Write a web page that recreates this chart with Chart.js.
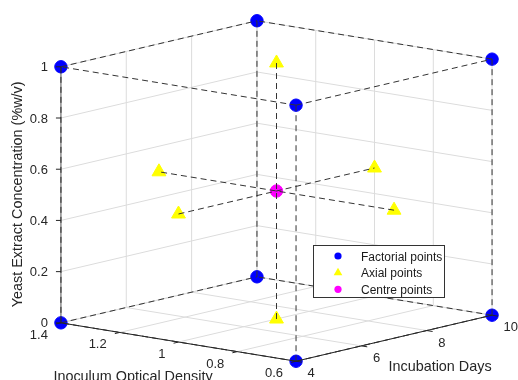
<!DOCTYPE html>
<html><head><meta charset="utf-8">
<script src="https://cdn.jsdelivr.net/npm/chart.js@4.4.1/dist/chart.umd.min.js"></script>
<style>html,body{margin:0;padding:0;background:#fff}canvas{display:block}</style>
</head><body>
<canvas id="c" width="518" height="380"></canvas>
<script>
// ---------------- data ----------------
const factorialDays  = [4, 10, 4, 10, 4, 10, 4, 10];
const factorialOD    = [0.6, 0.6, 1.4, 1.4, 0.6, 0.6, 1.4, 1.4];
const factorialYeast = [0, 0, 0, 0, 1, 1, 1, 1];

const axialDays  = [4, 10, 7, 7, 7, 7];
const axialOD    = [1.0, 1.0, 0.6, 1.4, 1.0, 1.0];
const axialYeast = [0.5, 0.5, 0.5, 0.5, 0, 1];

const centreDays  = [7];
const centreOD    = [1.0];
const centreYeast = [0.5];

const daysTicks  = [4, 6, 8, 10];
const odTicks    = [0.6, 0.8, 1.0, 1.2, 1.4];
const yeastTicks = [0, 0.2, 0.4, 0.6, 0.8, 1.0];

const seriesNames = ['Factorial points', 'Axial points', 'Centre points'];
const titleDays  = 'Incubation Days';
const titleOD    = 'Inoculum Optical Density';
const titleYeast = 'Yeast Extract Concentration (%w/v)';

// ---------------- view (orthographic 3-D camera) ----------------
const LIM = { days: [4, 10], od: [0.6, 1.4], yeast: [0, 1] };
const VIEW = { az: -50.18, el: 11.29, cx: 276.5, cy: 191, sXY: 306.1, sZ: 261.1 };
const AZ = VIEW.az * Math.PI / 180, EL = VIEW.el * Math.PI / 180;
function project(d, o, y) {
  const u = (d - LIM.days[0]) / (LIM.days[1] - LIM.days[0]) - 0.5;
  const v = (o - LIM.od[0]) / (LIM.od[1] - LIM.od[0]) - 0.5;
  const w = (y - LIM.yeast[0]) / (LIM.yeast[1] - LIM.yeast[0]) - 0.5;
  const sx = VIEW.cx + VIEW.sXY * (Math.cos(AZ) * u + Math.sin(AZ) * v);
  const up = VIEW.sXY * (-Math.sin(EL) * Math.sin(AZ) * u + Math.sin(EL) * Math.cos(AZ) * v)
           + VIEW.sZ * Math.cos(EL) * w;
  return { x: sx, y: VIEW.cy - up };
}
function pts(D, O, Y) { return D.map((d, i) => project(d, O[i], Y[i])); }

const COLORS = { factorial: '#0000ff', axial: '#ffff00', centre: '#ff00ff' };
const datasets = [];
function seg(a, b, color, width, dash, order) {
  datasets.push({
    data: [project(a[0], a[1], a[2]), project(b[0], b[1], b[2])],
    showLine: true, pointRadius: 0, pointHoverRadius: 0,
    borderColor: color, borderWidth: width, borderDash: dash || [],
    fill: false, tension: 0, order: order, clip: false
  });
}

// grid on back walls and floor
const G = '#dcdcdc';
const [d0, d1] = LIM.days, [o0, o1] = LIM.od, [y0, y1] = LIM.yeast;
daysTicks.forEach(d => { seg([d, o0, y0], [d, o1, y0], G, 1, null, 6); seg([d, o1, y0], [d, o1, y1], G, 1, null, 6); });
odTicks.forEach(o => { seg([d0, o, y0], [d1, o, y0], G, 1, null, 6); seg([d1, o, y0], [d1, o, y1], G, 1, null, 6); });
yeastTicks.forEach(y => { seg([d0, o1, y], [d1, o1, y], G, 1, null, 6); seg([d1, o0, y], [d1, o1, y], G, 1, null, 6); });

// markers
datasets.push({ label: seriesNames[0], data: pts(factorialDays, factorialOD, factorialYeast),
  pointStyle: 'circle', pointRadius: 6.2, borderWidth: 1, backgroundColor: COLORS.factorial,
  borderColor: COLORS.factorial, showLine: false, order: 3, clip: false });
datasets.push({ label: seriesNames[1], data: pts(axialDays, axialOD, axialYeast),
  pointStyle: 'triangle', pointRadius: 8, borderWidth: 1, backgroundColor: COLORS.axial,
  borderColor: COLORS.axial, showLine: false, order: 3, clip: false });
datasets.push({ label: seriesNames[2], data: pts(centreDays, centreOD, centreYeast),
  pointStyle: 'circle', pointRadius: 6.2, borderWidth: 1, backgroundColor: COLORS.centre,
  borderColor: COLORS.centre, showLine: false, order: 3, clip: false });

// dashed design lines: cube edges between factorial points, and axial pairs
const DASH = [6, 4], DC = '#333333';
for (let i = 0; i < factorialDays.length; i++) {
  for (let j = i + 1; j < factorialDays.length; j++) {
    const diff = (factorialDays[i] !== factorialDays[j]) + (factorialOD[i] !== factorialOD[j]) + (factorialYeast[i] !== factorialYeast[j]);
    if (diff === 1) seg([factorialDays[i], factorialOD[i], factorialYeast[i]], [factorialDays[j], factorialOD[j], factorialYeast[j]], DC, 1, DASH, 2);
  }
}
for (let i = 0; i < axialDays.length; i += 2) {
  seg([axialDays[i], axialOD[i], axialYeast[i]], [axialDays[i + 1], axialOD[i + 1], axialYeast[i + 1]], DC, 1, DASH, 2);
}

// axis lines
const AX = '#262626';
seg([d0, o0, y0], [d1, o0, y0], AX, 1, null, 1);
seg([d0, o0, y0], [d0, o1, y0], AX, 1, null, 1);
seg([d0, o1, y0], [d0, o1, y1], AX, 0.7, null, 1);

// ---------------- text / ticks / legend plugin ----------------
const FONT = '"Liberation Sans", Arial, Helvetica, sans-serif';
const decor = {
  id: 'decor',
  afterDatasetsDraw(chart) {
    const ctx = chart.ctx, sx = chart.scales.x, sy = chart.scales.y;
    const P = (d, o, y) => { const p = project(d, o, y); return { x: sx.getPixelForValue(p.x), y: sy.getPixelForValue(p.y) }; };
    ctx.save();
    ctx.strokeStyle = AX; ctx.lineWidth = 1;
    ctx.fillStyle = '#262626';
    ctx.font = '13px ' + FONT;
    // z ticks
    ctx.textAlign = 'right'; ctx.textBaseline = 'alphabetic';
    yeastTicks.forEach(y => {
      const p = P(d0, o1, y);
      ctx.beginPath(); ctx.moveTo(p.x, p.y); ctx.lineTo(p.x - 5, p.y); ctx.stroke();
      ctx.fillText(String(y), p.x - 13, p.y + 4.5);
    });
    // OD ticks
    odTicks.forEach(o => {
      const p = P(d0, o, y0);
      const q = P(d0 - 0.15, o, y0);
      ctx.beginPath(); ctx.moveTo(p.x, p.y); ctx.lineTo(q.x, q.y); ctx.stroke();
      ctx.fillText(String(o), p.x - 13, p.y + 16);
    });
    // Days ticks
    ctx.textAlign = 'left';
    daysTicks.forEach(d => {
      const p = P(d, o0, y0);
      const q = P(d, o0 - 0.02, y0);
      ctx.beginPath(); ctx.moveTo(p.x, p.y); ctx.lineTo(q.x, q.y); ctx.stroke();
      ctx.fillText(String(d), p.x + 11.5, p.y + 16);
    });
    // axis titles
    ctx.font = '14.4px ' + FONT;
    ctx.textAlign = 'center';
    const md = P((d0 + d1) / 2, o0, y0);
    ctx.fillText(titleDays, md.x + 46, md.y + 33);
    const mo = P(d0, (o0 + o1) / 2, y0);
    ctx.fillText(titleOD, mo.x - 45.5, mo.y + 38.5);
    const mz = P(d0, o1, (y0 + y1) / 2);
    ctx.save();
    ctx.translate(mz.x - 38.7, mz.y - 0.5);
    ctx.rotate(-Math.PI / 2);
    ctx.fillText(titleYeast, 0, 0);
    ctx.restore();
    ctx.restore();
  },
  afterDraw(chart) {
    const ctx = chart.ctx;
    ctx.save();
    const bx = 313.5, by = 245.5, bw = 131, bh = 52;
    ctx.fillStyle = '#ffffff';
    ctx.fillRect(bx, by, bw, bh);
    ctx.strokeStyle = '#333333'; ctx.lineWidth = 1;
    ctx.strokeRect(bx, by, bw, bh);
    const rows = [256, 272.7, 289.3];
    const cols = [COLORS.factorial, COLORS.axial, COLORS.centre];
    const styles = ['circle', 'triangle', 'circle'];
    ctx.font = '12px ' + FONT;
    ctx.textAlign = 'left'; ctx.textBaseline = 'alphabetic';
    rows.forEach((ry, i) => {
      ctx.fillStyle = cols[i];
      ctx.beginPath();
      if (styles[i] === 'circle') {
        ctx.arc(338, ry, 3.6, 0, Math.PI * 2);
      } else {
        const r = 5;
        ctx.moveTo(338, ry - r);
        ctx.lineTo(338 + r * Math.sin(2 * Math.PI / 3), ry + r / 2);
        ctx.lineTo(338 - r * Math.sin(2 * Math.PI / 3), ry + r / 2);
        ctx.closePath();
      }
      ctx.fill();
      ctx.fillStyle = '#1a1a1a';
      ctx.fillText(seriesNames[i], 361, ry + 4.5);
    });
    ctx.restore();
  }
};

new Chart(document.getElementById('c'), {
  type: 'scatter',
  data: { datasets: datasets },
  options: {
    responsive: false,
    devicePixelRatio: 1,
    animation: false,
    events: [],
    layout: { padding: 0, autoPadding: false },
    plugins: { legend: { display: false }, tooltip: { enabled: false }, title: { display: false } },
    scales: {
      x: { type: 'linear', min: 0, max: 518, display: false },
      y: { type: 'linear', min: 0, max: 380, reverse: true, display: false }
    }
  },
  plugins: [decor]
});
</script>
</body></html>
